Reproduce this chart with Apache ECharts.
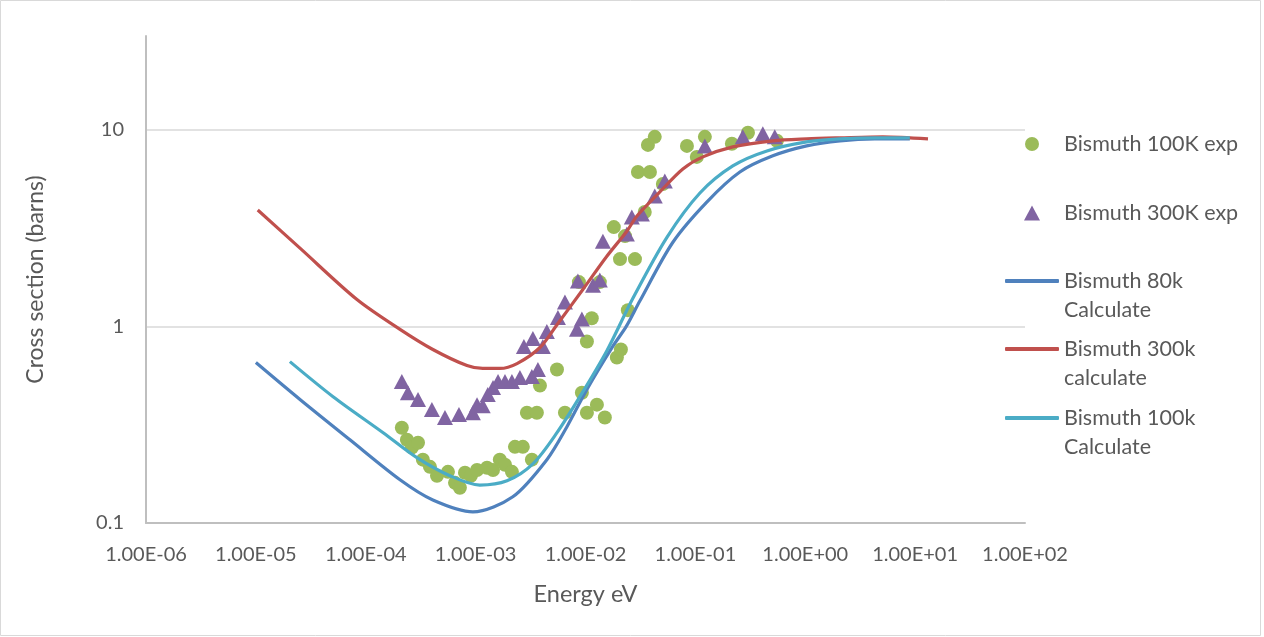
<!DOCTYPE html>
<html>
<head>
<meta charset="utf-8">
<script src="https://cdn.jsdelivr.net/npm/echarts@6/dist/echarts.min.js"></script>
<style>
html,body{margin:0;padding:0;background:#fff;}
#chart{width:1264px;height:637px;}
</style>
</head>
<body>
<div id="chart"></div>
<script>
// ---- Data ----
// Bismuth 100K exp (green circles)
const exp100E = [2.13e-4,2.37e-4,2.63e-4,2.99e-4,3.31e-4,3.84e-4,4.45e-4,5.60e-4,6.49e-4,7.19e-4,8.00e-4,9.06e-4,1.03e-3,1.27e-3,1.44e-3,1.66e-3,1.85e-3,2.14e-3,2.28e-3,2.69e-3,3.25e-3,2.93e-3,3.61e-3,3.85e-3,5.50e-3,6.50e-3,9.27e-3,1.03e-2,1.27e-2,1.50e-2,1.03e-2,1.14e-2,1.93e-2,2.10e-2,2.43e-2,8.71e-3,1.35e-2,2.06e-2,2.82e-2,1.81e-2,2.29e-2,3.46e-2,3.00e-2,3.86e-2,5.06e-2,3.70e-2,4.27e-2,8.38e-2,0.103,0.122,0.215,0.301,0.552];
const exp100Sigma = [0.305,0.265,0.242,0.256,0.210,0.193,0.174,0.182,0.160,0.151,0.180,0.174,0.186,0.191,0.186,0.210,0.198,0.182,0.244,0.244,0.210,0.364,0.364,0.500,0.604,0.364,0.460,0.364,0.400,0.344,0.838,1.10,0.695,0.763,1.21,1.68,1.68,2.20,2.20,3.20,2.88,3.82,6.10,6.10,5.30,8.38,9.21,8.28,7.28,9.21,8.49,9.66,8.79];

// Bismuth 300K exp (purple triangles)
const exp300E = [2.13e-4,2.42e-4,2.99e-4,4.00e-4,5.26e-4,7.05e-4,9.44e-4,1.03e-3,1.16e-3,1.29e-3,1.44e-3,1.60e-3,1.85e-3,2.14e-3,2.53e-3,3.25e-3,3.69e-3,2.75e-3,3.32e-3,4.09e-3,4.45e-3,5.61e-3,6.50e-3,8.36e-3,9.27e-3,8.53e-3,1.17e-2,1.35e-2,1.44e-2,2.38e-2,2.64e-2,3.26e-2,4.27e-2,5.27e-2,0.122,0.270,0.411,0.528];
const exp300Sigma = [0.524,0.460,0.425,0.378,0.344,0.356,0.364,0.400,0.395,0.450,0.489,0.524,0.524,0.524,0.550,0.556,0.604,0.791,0.869,0.791,0.942,1.11,1.33,0.966,1.09,1.70,1.62,1.72,2.71,2.95,3.60,3.73,4.61,5.49,8.28,9.21,9.54,9.21];

// Bismuth 80k Calculate (blue line)
const calc80E = [1.0e-5,2.52e-5,7.18e-5,2.05e-4,4.08e-4,9.44e-4,2.18e-3,4.45e-3,6.78e-3,1.03e-2,1.77e-2,2.35e-2,3.13e-2,6.24e-2,0.127,0.254,0.507,1.03,2.07,4.30,8.95];
const calc80Sigma = [0.655,0.425,0.265,0.166,0.131,0.114,0.136,0.210,0.309,0.478,0.791,1.00,1.35,2.68,4.29,6.10,7.37,8.28,8.79,8.99,8.99];

// Bismuth 300k calculate (red line)
const calc300E = [1.04e-5,2.52e-5,8.32e-5,2.05e-4,4.08e-4,8.34e-4,1.16e-3,1.66e-3,2.38e-3,3.85e-3,5.50e-3,9.46e-3,1.57e-2,2.38e-2,2.94e-2,4.75e-2,7.69e-2,0.117,0.219,0.507,1.03,2.07,5.08,13.1];
const calc300Sigma = [3.91,2.50,1.37,0.966,0.763,0.632,0.611,0.611,0.647,0.781,1.02,1.54,2.28,3.05,3.64,4.83,6.32,7.28,8.19,8.79,8.99,9.10,9.21,8.99];

// Bismuth 100k Calculate (cyan line)
const calc100E = [2.04e-5,5.04e-5,1.44e-4,2.92e-4,5.83e-4,1.09e-3,1.93e-3,3.32e-3,5.50e-3,8.89e-3,1.57e-2,2.70e-2,5.51e-2,0.110,0.219,0.448,1.03,2.07,4.30,8.95];
const calc100Sigma = [0.662,0.439,0.288,0.215,0.174,0.156,0.164,0.200,0.288,0.439,0.755,1.39,2.84,4.77,6.55,7.81,8.68,8.99,9.10,9.10];

const seriesNames = ['Bismuth 100K exp','Bismuth 300K exp','Bismuth 80k\nCalculate','Bismuth 300k\ncalculate','Bismuth 100k\nCalculate'];

// ---- Helpers ----
const zip = (a, b) => a.map((v, i) => [v, b[i]]);
function sci(v) {
  let e = Math.floor(Math.log10(v) + 1e-9);
  let m = v / Math.pow(10, e);
  let s = e < 0 ? '-' : '+';
  return m.toFixed(2) + 'E' + s + String(Math.abs(e)).padStart(2, '0');
}

const FONT = 'Lato, "Liberation Sans", sans-serif';
const TXT = '#595959';
const LEG_FS = 21.5;

const chart = echarts.init(document.getElementById('chart'), null, {renderer: 'canvas'});

function legendItem(name, left, top, icon, w, h, padLeft) {
  return {
    data: [name], left: left, top: top, orient: 'vertical', padding: 0,
    icon: icon, itemWidth: w, itemHeight: h, itemGap: 0,
    selectedMode: false,
    formatter: name.indexOf('\n') >= 0 ? '\n{name}' : '{name}',
    textStyle: {fontFamily: FONT, fontSize: LEG_FS, color: TXT, lineHeight: 29, padding: [0, 0, 0, padLeft]}
  };
}

const option = {
  animation: false,
  backgroundColor: '#fff',
  graphic: [{
    type: 'rect', shape: {x: 0.5, y: 0.5, width: 1260, height: 635},
    style: {fill: 'none', stroke: '#d9d9d9', lineWidth: 1}, silent: true, z: -10
  }],
  grid: {left: 146, right: 239, top: 36, bottom: 114, containLabel: false},
  legend: [
    legendItem(seriesNames[0], 1025, 129.5, 'circle', 14, 14, 20),
    legendItem(seriesNames[1], 1024, 198.5, 'triangle', 16, 15, 19),
    legendItem(seriesNames[2], 1005, 237.5, 'roundRect', 54, 4, 0),
    legendItem(seriesNames[3], 1005, 305.5, 'roundRect', 54, 4, 0),
    legendItem(seriesNames[4], 1005, 374.5, 'roundRect', 54, 4, 0)
  ],
  xAxis: {
    type: 'log', logBase: 10, min: 1e-6, max: 1e2, splitNumber: 8,
    name: 'Energy eV', nameLocation: 'middle', nameGap: 59,
    nameTextStyle: {fontFamily: FONT, fontSize: 23.5, color: TXT},
    axisLine: {onZero: false, lineStyle: {color: '#bfbfbf', width: 2}},
    axisTick: {show: false},
    axisLabel: {fontFamily: FONT, fontSize: 20, color: TXT, margin: 22, formatter: sci},
    splitLine: {show: false}
  },
  yAxis: {
    type: 'log', logBase: 10, min: 0.1, max: 30,
    name: 'Cross section (barns)', nameLocation: 'middle', nameGap: 99,
    nameTextStyle: {fontFamily: FONT, fontSize: 23, color: TXT},
    axisLine: {show: true, onZero: false, lineStyle: {color: '#bfbfbf', width: 2}},
    axisTick: {show: false},
    axisLabel: {fontFamily: FONT, fontSize: 20, color: TXT, margin: 22, showMaxLabel: false,
      formatter: v => String(+v.toPrecision(3))},
    splitLine: {show: true, showMinLine: false, showMaxLine: false, lineStyle: {color: '#d9d9d9', width: 1.5}}
  },
  series: [
    {name: seriesNames[0], type: 'scatter', data: zip(exp100E, exp100Sigma), symbol: 'circle', symbolSize: 14,
     itemStyle: {color: '#9BBB59', opacity: 1}, emphasis: {disabled: true}},
    {name: seriesNames[1], type: 'scatter', data: zip(exp300E, exp300Sigma), symbol: 'triangle', symbolSize: [16, 15],
     itemStyle: {color: '#8064A2', opacity: 1}, emphasis: {disabled: true}},
    {name: seriesNames[2], type: 'line', data: zip(calc80E, calc80Sigma), showSymbol: false, symbol: 'none', smooth: 0.3,
     lineStyle: {color: '#4F81BD', width: 3.2}, itemStyle: {color: '#4F81BD'}, emphasis: {disabled: true}},
    {name: seriesNames[3], type: 'line', data: zip(calc300E, calc300Sigma), showSymbol: false, symbol: 'none', smooth: 0.3,
     lineStyle: {color: '#C0504D', width: 3.2}, itemStyle: {color: '#C0504D'}, emphasis: {disabled: true}},
    {name: seriesNames[4], type: 'line', data: zip(calc100E, calc100Sigma), showSymbol: false, symbol: 'none', smooth: 0.3,
     lineStyle: {color: '#4BACC6', width: 3.2}, itemStyle: {color: '#4BACC6'}, emphasis: {disabled: true}}
  ]
};
chart.setOption(option);
</script>
</body>
</html>
